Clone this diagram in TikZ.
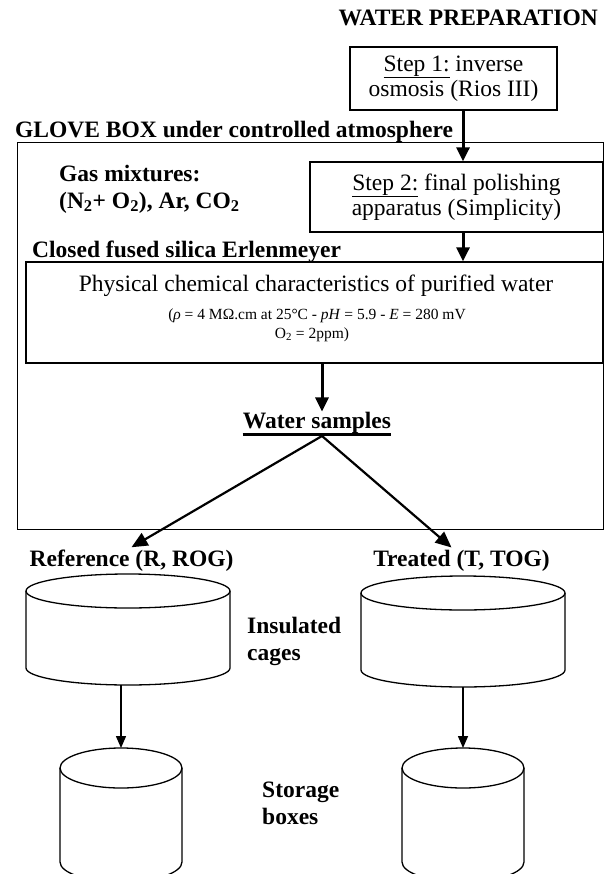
\documentclass[tikz,border=0pt]{standalone}
\usepackage{fontspec}
\setmainfont{Liberation Serif}
\usetikzlibrary{arrows.meta,calc}

\tikzset{
  txt/.style={inner sep=0pt, font=\fontsize{23.5}{25.5}\selectfont},
  hd/.style={inner sep=0pt, font=\fontsize{23.5}{27}\selectfont\bfseries},
  small/.style={inner sep=0pt, font=\fontsize{15.5}{18}\selectfont},
  frame/.style={draw, line width=1.3pt, inner sep=0pt},
  stepbox/.style={frame, align=center, font=\fontsize{23.5}{25}\selectfont},
  flowthick/.style={line width=3pt, -{Triangle[length=14pt,width=13pt]}},
  flowmid/.style={line width=2.2pt, -{Triangle[length=16pt,width=14pt]}},
  flowthin/.style={line width=1.5pt, -{Triangle[length=12pt,width=10pt]}},
}

% drum: name, centre x, top-ellipse y, bottom-ellipse y, x radius, y radius
\newcommand\drumshape[6]{%
  \node[inner sep=0pt, outer sep=0pt, minimum width={2*#5pt},
        minimum height={(#4-#3+2*#6)*1pt}] (#1) at (#2,{(#3+#4)/2}) {};
  \draw[line width=1.3pt] (#2-#5,#3) -- (#2-#5,#4)
     arc[start angle=180, end angle=360, x radius=#5pt, y radius=#6pt]
     -- (#2+#5,#3);
  \draw[line width=1.3pt] (#2,#3) ellipse[x radius=#5pt, y radius=#6pt];
}

\begin{document}
\begin{tikzpicture}[x=1pt,y=-1pt]
\useasboundingbox (0,0) rectangle (604,874);
\clip (0,0) rectangle (604,874);

% water preparation
\node[hd, anchor=base east] (wp) at (598,26) {WATER PREPARATION};
\node[stepbox, minimum width=207pt, minimum height=63pt] (s1) at (453.5,78.5)
  {\underline{Step 1:} inverse\\osmosis (Rios III)};
\coordinate (ax) at (463,0);

% glove box
\node[hd, anchor=base west] (glovelbl) at (15,138) {GLOVE BOX under controlled atmosphere};
\node[frame, anchor=north west, minimum width=586pt, minimum height=387pt] (glove) at (17,142) {};

\node[hd, anchor=west, align=left] (gas) at (59,189)
  {Gas mixtures:\\(N\textsubscript{2}+ O\textsubscript{2}), Ar, CO\textsubscript{2}};

\node[stepbox, minimum width=293pt, minimum height=70pt] (s2) at (456.5,197)
  {\underline{Step 2:} final polishing\\apparatus (Simplicity)};

% Erlenmeyer
\node[hd, anchor=base west] (erllbl) at (32,258) {Closed fused silica Erlenmeyer};
\node[frame, minimum width=577pt, minimum height=101pt] (erl) at (314.5,312.5) {};
\node[txt, anchor=base] (erl1) at (316,291) {Physical chemical characteristics of purified water};
\node[small, anchor=base] (erl2) at (317,319)
  {(\textit{ρ} = 4 MΩ.cm at 25°C - \textit{pH} = 5.9 - \textit{E} = 280 mV};
\node[small, anchor=base] (erl3) at (312,338) {O\textsubscript{2} = 2ppm)};
\coordinate (bx) at (322,0);

% samples
\node[hd, anchor=base] (ws) at (317,428) {Water samples};
\draw[line width=3pt] ([yshift=-6pt]ws.base west) -- ([yshift=-6pt]ws.base east);
\coordinate (fork) at (322,436);

\node[hd, anchor=base, inner sep=2pt] (ref) at (131.5,566) {Reference (R, ROG)};
\node[hd, anchor=base, inner sep=2pt] (trt) at (461.5,566) {Treated (T, TOG)};

% drums
\drumshape{cageL}{128}{591}{668}{102}{17}
\drumshape{cageR}{463}{593}{670}{102}{17}
\drumshape{boxL}{121}{768}{862}{61}{20}
\drumshape{boxR}{463}{768}{862}{61}{20}

\node[hd, anchor=west, align=left] (ins) at (247,641) {Insulated\\cages};
\node[hd, anchor=west, align=left] (sto) at (262,803) {Storage\\boxes};

% flow
\draw[flowthick] (s1.south -| ax) -- (s2.north -| ax);
\draw[flowthick] (s2.south -| ax) -- (erl.north -| ax);
\draw[flowthick] (erl.south -| bx) -- (ws.north -| bx);
\draw[flowmid] (fork) -- (ref.north);
\draw[flowmid] (fork) -- ([xshift=-10pt]trt.north);
\draw[flowthin] (cageL.south -| boxL.north) -- (boxL.north);
\draw[flowthin] (cageR.south -| boxR.north) -- (boxR.north);
\end{tikzpicture}
\end{document}
